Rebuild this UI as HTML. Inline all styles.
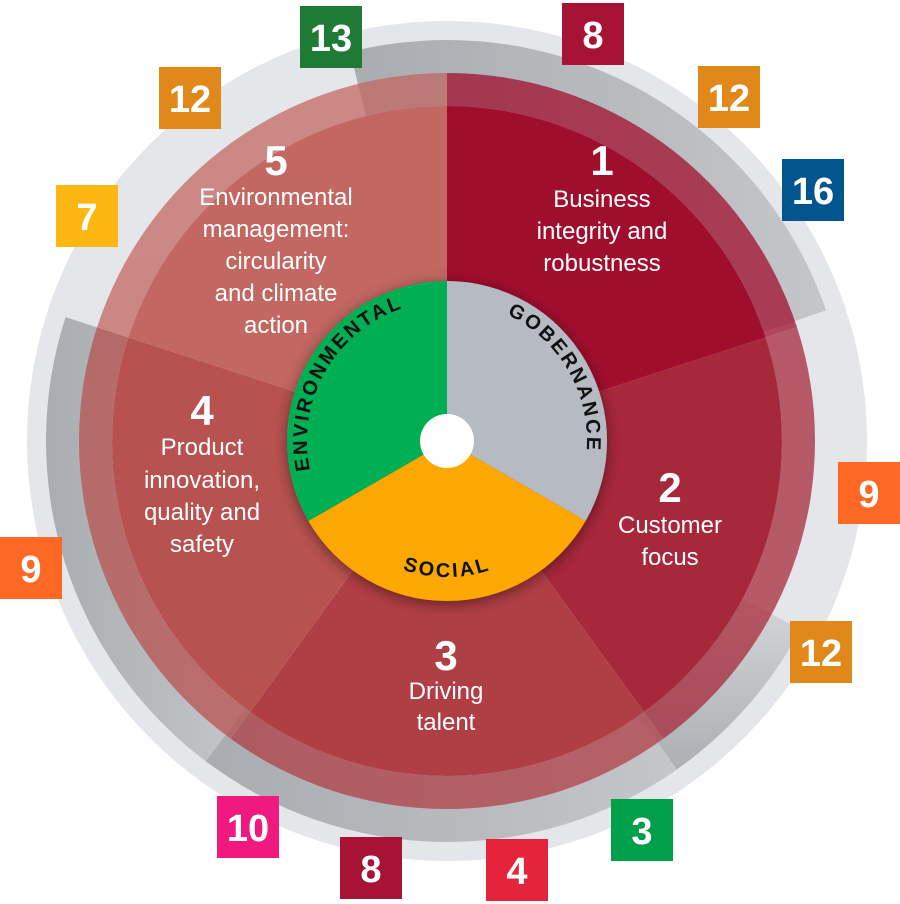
<!DOCTYPE html>
<html><head><meta charset="utf-8"><style>
html,body{margin:0;padding:0;background:#fff;}
svg{display:block;}
.n{font-family:"Liberation Sans",sans-serif;font-weight:bold;fill:#fff;text-anchor:middle;}
.l{font-family:"Liberation Sans",sans-serif;fill:#fff;text-anchor:middle;font-size:24px;}
.c{font-family:"Liberation Sans",sans-serif;font-weight:bold;fill:#111;font-size:20px;letter-spacing:2.5px;}
</style></head><body>
<svg width="900" height="904" viewBox="0 0 900 904" xmlns="http://www.w3.org/2000/svg">
<defs>
<linearGradient id="g1" x1="0" y1="0" x2="1" y2="0"><stop offset="0" stop-color="#a9acb0"/><stop offset="1" stop-color="#c4c6c9"/></linearGradient>
<linearGradient id="g2" x1="0" y1="0" x2="0" y2="1"><stop offset="0" stop-color="#d4d6d9"/><stop offset="1" stop-color="#a9acb0"/></linearGradient>
<filter id="sh" x="-30%" y="-30%" width="160%" height="160%"><feDropShadow dx="0" dy="3" stdDeviation="7" flood-color="#000" flood-opacity="0.45"/></filter>
<path id="penv" d="M339.8,531 A140,140 0 0 1 471.3,303.1"/>
<path id="pgob" d="M422.7,303.1 A140,140 0 0 1 554.2,531"/>
<path id="psoc" d="M329.2,509 A136,136 0 0 0 564.8,509"/>
</defs>
<circle cx="447" cy="441" r="420" fill="#e5e6e9"/>
<!-- grey arcs -->
<path d="M350,51.9 A401,401 0 0 1 826.1,310.4 L763.7,331.9 A335,335 0 0 0 366,116 Z" fill="url(#g1)"/>
<path d="M205.7,761.2 A401,401 0 0 1 65.6,317.1 L128.4,337.5 A335,335 0 0 0 245.4,708.5 Z" fill="url(#g1)"/>
<path d="M800.3,629.6 A401,401 0 0 1 659.5,781 L624.5,725.1 A335,335 0 0 0 742.3,598 Z" fill="url(#g2)"/>
<path d="M677,769.5 A401,401 0 0 1 205.7,761.2 L245.4,708.5 A335,335 0 0 0 639.2,715.4 Z" fill="url(#g1)"/>
<!-- bands -->
<g opacity="0.74">
<path d="M447,73 A368,368 0 0 1 797,327.3 L765.6,337.5 A335,335 0 0 0 447,106 Z" fill="#a00e2d"/>
<path d="M797,327.3 A368,368 0 0 1 663.3,738.7 L643.9,712 A335,335 0 0 0 765.6,337.5 Z" fill="#a7283a"/>
<path d="M663.3,738.7 A368,368 0 0 1 230.7,738.7 L250.1,712 A335,335 0 0 0 643.9,712 Z" fill="#b03e45"/>
<path d="M230.7,738.7 A368,368 0 0 1 97,327.3 L128.4,337.5 A335,335 0 0 0 250.1,712 Z" fill="#b85250"/>
<path d="M97,327.3 A368,368 0 0 1 447,73 L447,106 A335,335 0 0 0 128.4,337.5 Z" fill="#c26762"/>
</g>
<!-- sectors -->
<path d="M447,441 L447,106 A335,335 0 0 1 765.6,337.5 Z" fill="#a00e2d"/>
<path d="M447,441 L765.6,337.5 A335,335 0 0 1 643.9,712 Z" fill="#a7283a"/>
<path d="M447,441 L643.9,712 A335,335 0 0 1 250.1,712 Z" fill="#b03e45"/>
<path d="M447,441 L250.1,712 A335,335 0 0 1 128.4,337.5 Z" fill="#b85250"/>
<path d="M447,441 L128.4,337.5 A335,335 0 0 1 447,106 Z" fill="#c26762"/>
<!-- ESG -->
<g filter="url(#sh)">
<path d="M447,441 L447,281 A160,160 0 0 1 585.6,521 Z" fill="#b5bac3"/>
<path d="M447,441 L585.6,521 A160,160 0 0 1 308.4,521 Z" fill="#fca800"/>
<path d="M447,441 L308.4,521 A160,160 0 0 1 447,281 Z" fill="#00ae52"/>
</g>
<circle cx="447" cy="441" r="27" fill="#fff"/>
<text class="c"><textPath href="#penv" startOffset="50%" text-anchor="middle">ENVIRONMENTAL</textPath></text>
<text class="c"><textPath href="#pgob" startOffset="50%" text-anchor="middle">GOBERNANCE</textPath></text>
<text class="c" font-size="21"><textPath href="#psoc" startOffset="50%" text-anchor="middle">SOCIAL</textPath></text>
<!-- labels -->
<text class="n" font-size="42" x="602" y="175">1</text>
<text class="l" x="602" y="207">Business</text>
<text class="l" x="602" y="239">integrity and</text>
<text class="l" x="602" y="271">robustness</text>
<text class="n" font-size="42" x="276" y="175">5</text>
<text class="l" x="276" y="205">Environmental</text>
<text class="l" x="276" y="237">management:</text>
<text class="l" x="276" y="269">circularity</text>
<text class="l" x="276" y="301">and climate</text>
<text class="l" x="276" y="333">action</text>
<text class="n" font-size="42" x="202" y="425">4</text>
<text class="l" x="202" y="455">Product</text>
<text class="l" x="202" y="488">innovation,</text>
<text class="l" x="202" y="520">quality and</text>
<text class="l" x="202" y="552">safety</text>
<text class="n" font-size="42" x="670" y="502">2</text>
<text class="l" x="670" y="533">Customer</text>
<text class="l" x="670" y="565">focus</text>
<text class="n" font-size="42" x="446" y="670">3</text>
<text class="l" x="446" y="699">Driving</text>
<text class="l" x="446" y="730">talent</text>
<!-- SDG boxes -->
<g>
<rect x="300" y="6" width="62" height="62" fill="#1f7a35"/><text class="n" font-size="38" x="331" y="51">13</text>
<rect x="562" y="3" width="62" height="62" fill="#a61335"/><text class="n" font-size="38" x="593" y="48">8</text>
<rect x="159" y="67" width="62" height="62" fill="#e0881a"/><text class="n" font-size="38" x="190" y="112">12</text>
<rect x="698" y="66" width="62" height="62" fill="#e0881a"/><text class="n" font-size="38" x="729" y="111">12</text>
<rect x="782" y="159" width="62" height="62" fill="#00558f"/><text class="n" font-size="38" x="813" y="204">16</text>
<rect x="56" y="185" width="62" height="62" fill="#fdb713"/><text class="n" font-size="38" x="87" y="230">7</text>
<rect x="838" y="462" width="62" height="62" fill="#fd6925"/><text class="n" font-size="38" x="869" y="507">9</text>
<rect x="0" y="537" width="62" height="62" fill="#fd6925"/><text class="n" font-size="38" x="31" y="582">9</text>
<rect x="790" y="621" width="62" height="62" fill="#e0881a"/><text class="n" font-size="38" x="821" y="666">12</text>
<rect x="217" y="796" width="62" height="62" fill="#f0197f"/><text class="n" font-size="38" x="248" y="841">10</text>
<rect x="340" y="837" width="62" height="62" fill="#a61335"/><text class="n" font-size="38" x="371" y="882">8</text>
<rect x="486" y="839" width="62" height="62" fill="#e5243b"/><text class="n" font-size="38" x="517" y="884">4</text>
<rect x="611" y="799" width="62" height="62" fill="#00a04a"/><text class="n" font-size="38" x="642" y="844">3</text>
</g>
</svg>
</body></html>
